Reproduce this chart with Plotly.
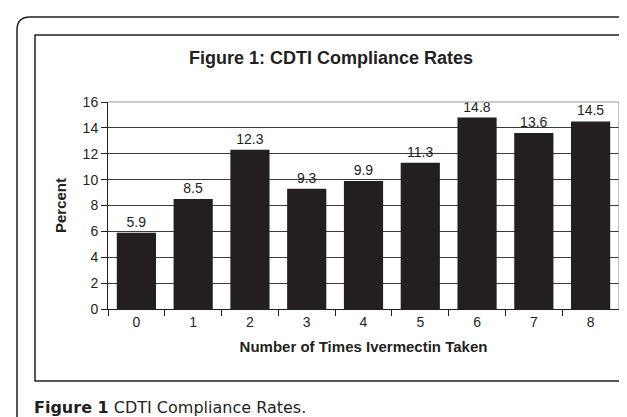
import plotly.graph_objects as go

categories = ["0", "1", "2", "3", "4", "5", "6", "7", "8"]
percent = [5.9, 8.5, 12.3, 9.3, 9.9, 11.3, 14.8, 13.6, 14.5]
y_ticks = [0, 2, 4, 6, 8, 10, 12, 14, 16]

W, H = 627, 417
L, R, T, B = 100, 16, 94, 116
PW, PH = W - L - R, H - T - B

def px(x):
    return (x - L) / PW

def py(y):
    return (H - B - y) / PH

INK = "#231f20"
FONT = "Liberation Sans, Arial, sans-serif"

fig = go.Figure(go.Bar(
    x=categories, y=percent,
    marker=dict(color=INK, line=dict(width=0)),
    text=[f"{v:.1f}" for v in percent],
    textposition="outside", cliponaxis=False,
    textfont=dict(family=FONT, size=14, color=INK),
))

shapes = [
    # outer rounded frame
    dict(type="path", xref="paper", yref="paper",
         path=f"M {px(650)} {py(9)} L {px(22)} {py(9)} Q {px(9)} {py(9)} {px(9)} {py(22)} L {px(9)} {py(440)}",
         line=dict(color=INK, width=1.5)),
    # inner chart box
    dict(type="rect", xref="paper", yref="paper",
         x0=px(27), x1=px(619), y0=py(27), y1=py(373),
         line=dict(color=INK, width=1.5)),
    # plot area top and right border (gray)
    dict(type="line", xref="paper", yref="paper", x0=0, x1=1, y0=1, y1=1,
         line=dict(color="#9a9a9a", width=1.2)),
    dict(type="line", xref="paper", yref="paper", x0=1, x1=1, y0=0, y1=1,
         line=dict(color="#9a9a9a", width=1.2)),
]

annotations = [
    dict(text="<b>Figure 1: CDTI Compliance Rates</b>", xref="paper", yref="paper",
         x=px(323), y=py(50), showarrow=False, xanchor="center", yanchor="middle",
         font=dict(family=FONT, size=18, color=INK)),
    dict(text="<b>Figure 1</b> CDTI Compliance Rates.", xref="paper", yref="paper",
         x=px(24), y=py(399), showarrow=False, xanchor="left", yanchor="middle",
         font=dict(family="DejaVu Sans, sans-serif", size=16, color=INK)),
]

fig.update_layout(
    width=W, height=H,
    margin=dict(l=L, r=R, t=T, b=B, autoexpand=False),
    paper_bgcolor="white", plot_bgcolor="white",
    bargap=0.31, showlegend=False,
    shapes=shapes, annotations=annotations,
    font=dict(family=FONT, color=INK),
)
fig.update_xaxes(
    type="category", tickson="boundaries", ticks="outside", ticklen=6,
    tickcolor=INK, tickwidth=1, showline=True, linecolor=INK, linewidth=1,
    showgrid=False, tickfont=dict(family=FONT, size=14, color=INK),
    title=dict(text="<b>Number of Times Ivermectin Taken</b>", standoff=12,
               font=dict(family=FONT, size=15, color=INK)),
)
fig.update_yaxes(
    range=[0, 16], tickvals=y_ticks, ticks="outside", ticklen=6,
    tickcolor=INK, tickwidth=1, showline=True, linecolor=INK, linewidth=1,
    showgrid=True, gridcolor="#3a3a3a", gridwidth=1, zeroline=False,
    tickfont=dict(family=FONT, size=14, color=INK),
    title=dict(text="<b>Percent</b>", standoff=12,
               font=dict(family=FONT, size=15, color=INK)),
)

fig.write_html("out.html")
